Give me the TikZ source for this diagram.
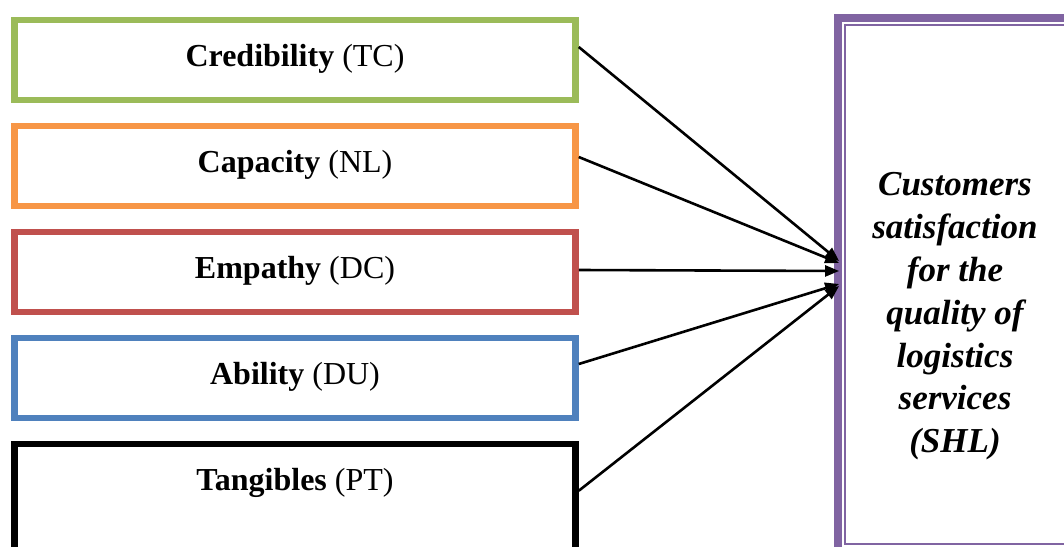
\documentclass[tikz,border=0pt]{standalone}
\usepackage{fontspec}
\setmainfont{Liberation Serif}
\usetikzlibrary{arrows.meta}
\definecolor{cgreen}{RGB}{155,187,89}
\definecolor{corange}{RGB}{247,150,70}
\definecolor{cred}{RGB}{192,80,77}
\definecolor{cblue}{RGB}{79,129,189}
\definecolor{cpurple}{RGB}{128,100,162}
\begin{document}
\begin{tikzpicture}[x=1pt,y=-1pt,
  factor/.style={draw, line width=6.5pt, minimum width=561pt, inner sep=0pt,
    text height=46pt, text depth=34pt, anchor=base,
    font=\fontsize{32}{38}\selectfont},
  link/.style={line width=2.6pt, -{Triangle[length=14pt,width=11pt]}}]
\useasboundingbox (0,0) rectangle (1064,546);
\clip (0,0) rectangle (1064,546);

% factor boxes
\node[factor, draw=cgreen]  (tc) at (295,66)  {\textbf{Credibility} (TC)};
\node[factor, draw=corange] (nl) at (295,172) {\textbf{Capacity} (NL)};
\node[factor, draw=cred]    (dc) at (295,278) {\textbf{Empathy} (DC)};
\node[factor, draw=cblue]   (du) at (295,384) {\textbf{Ability} (DU)};
\node[factor, draw=black, text depth=130pt] (pt) at (295,490) {\textbf{Tangibles} (PT)};

% outcome box with double purple frame
\node[draw=cpurple, line width=8pt, inner sep=0pt, minimum width=300pt,
      minimum height=534pt, anchor=north west] (shl) at (833.6,13.5) {};
\draw[cpurple, line width=2pt]
  ([shift={(11.4pt,-11.5pt)}]shl.north west) rectangle
  ([shift={(-11.4pt,11.5pt)}]shl.south east);
\node[align=center, inner sep=0pt,
      font=\fontsize{35}{42.8}\selectfont\bfseries\itshape] (shltxt) at (955,316.5)
  {Customers\\satisfaction\\for the\\quality of\\logistics\\services\\(SHL)};

% connectors
\draw[link] ([yshift=13pt]tc.east) -- ([xshift=5.5pt,yshift=23.5pt]shl.west);
\draw[link] ([yshift=9pt]nl.east)  -- ([xshift=5.5pt,yshift=21.5pt]shl.west);
\draw[link] ([yshift=2pt]dc.east)  -- ([xshift=5.5pt,yshift=13.5pt]shl.west);
\draw[link] ([yshift=14pt]du.east) -- ([xshift=5.5pt,yshift=0.5pt]shl.west);
\draw[link] ([yshift=-50pt]pt.north east) -- ([xshift=5.5pt,yshift=-1.5pt]shl.west);
\end{tikzpicture}
\end{document}
